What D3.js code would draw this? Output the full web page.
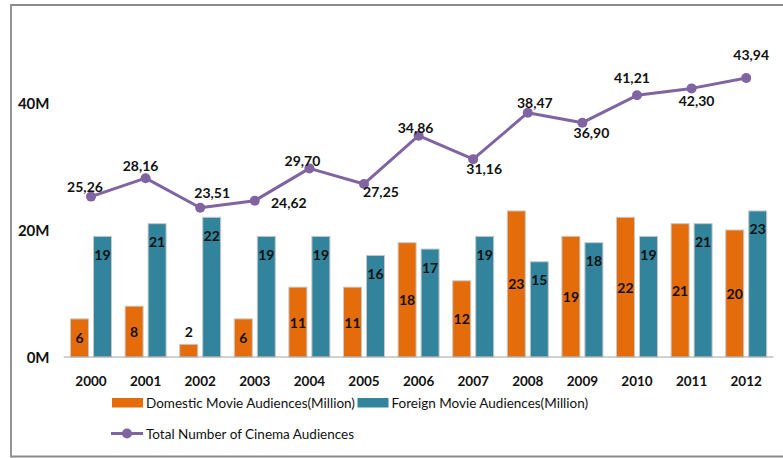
<!DOCTYPE html>
<html>
<head>
<meta charset="utf-8">
<script src="https://cdn.jsdelivr.net/npm/d3@7"></script>
<style>
  html, body { margin: 0; padding: 0; background: #fff; }
  svg { display: block; font-family: Lato, "Open Sans", sans-serif; }
</style>
</head>
<body>
<svg id="chart" width="783" height="458"></svg>
<script>
// Cinema audiences by year (millions)
const years = ["2000","2001","2002","2003","2004","2005","2006","2007","2008","2009","2010","2011","2012"];
const domestic = [6, 8, 2, 6, 11, 11, 18, 12, 23, 19, 22, 21, 20];
const foreign  = [19, 21, 22, 19, 19, 16, 17, 19, 15, 18, 19, 21, 23];
const totals   = [25.26, 28.16, 23.51, 24.62, 29.70, 27.25, 34.86, 31.16, 38.47, 36.90, 41.21, 42.30, 43.94];
const yTicks   = [0, 20, 40];
const seriesNames = ["Domestic Movie Audiences(Million)", "Foreign Movie Audiences(Million)", "Total Number of Cinema Audiences"];

// Label nudges for the total line (px, relative to each marker)
const totalLabelNudge = [[-6,-10],[-5,-13],[12,-15],[34,2],[-7,-8],[17,8],[-3,-8],[11,9],[7,-10],[9,10],[-5,-18],[5,12],[5,-23]];

const colors = { dom: "#E46C0A", for: "#31849B", total: "#8064A2" };

const svg = d3.select("#chart");

// frame
svg.append("path")
  .attr("d", "M 790 5 H 11 V 456.5 H 790")
  .attr("fill", "none")
  .attr("stroke", "#8a8a8a")
  .attr("stroke-width", 1.8);

const x0 = d3.scaleBand().domain(years).range([63.7, 773.5]).padding(0);
const x1 = d3.scaleBand().domain(["dom", "for"]).range([6.8, 47.8]).paddingInner(0.217).paddingOuter(0);
const y = d3.scaleLinear().domain([0, 40]).range([357, 103]);

const commaFmt = d3.formatLocale({ decimal: ",", thousands: ".", grouping: [3], currency: ["", ""] });
const fmt2 = commaFmt.format(".2f");

// y tick labels
svg.append("g").selectAll("text")
  .data(yTicks).join("text")
  .attr("x", 49.5)
  .attr("y", d => y(d))
  .attr("text-anchor", "end")
  .attr("dominant-baseline", "central")
  .attr("font-size", 15)
  .attr("font-weight", 700)
  .attr("fill", "#111")
  .text(d => d + "M");

// bars
const rows = years.map((yr, i) => ({ yr, dom: domestic[i], for: foreign[i] }));
const groups = svg.append("g").selectAll("g")
  .data(rows).join("g")
  .attr("transform", d => `translate(${x0(d.yr)},0)`);

groups.selectAll("rect")
  .data(d => ["dom", "for"].map(k => ({ k, v: d[k] })))
  .join("rect")
  .attr("x", d => x1(d.k))
  .attr("y", d => y(d.v))
  .attr("width", x1.bandwidth())
  .attr("height", d => y(0) - y(d.v))
  .attr("fill", d => colors[d.k])
  .attr("stroke", "#c8c8c8")
  .attr("stroke-width", 1);

// bar value labels
groups.selectAll("text")
  .data(d => ["dom", "for"].map(k => ({ k, v: d[k] })))
  .join("text")
  .attr("x", d => x1(d.k) + x1.bandwidth() / 2)
  .attr("y", d => {
    const h = y(0) - y(d.v);
    if (d.k === "for") return y(d.v) + 18;
    if (h < 20) return y(d.v) - 13;
    return y(d.v) + h / 2;
  })
  .attr("text-anchor", "middle")
  .attr("dominant-baseline", "central")
  .attr("font-size", 14)
  .attr("font-weight", 700)
  .attr("fill", "#111")
  .text(d => d.v);

// x axis baseline
svg.append("line")
  .attr("x1", x0.range()[0]).attr("x2", x0.range()[1])
  .attr("y1", y(0)).attr("y2", y(0))
  .attr("stroke", "#a6a6a6").attr("stroke-width", 1.2);

// year labels
svg.append("g").selectAll("text")
  .data(years).join("text")
  .attr("x", d => x0(d) + x0.bandwidth() / 2)
  .attr("y", 381)
  .attr("text-anchor", "middle")
  .attr("dominant-baseline", "central")
  .attr("font-size", 13.5)
  .attr("font-weight", 700)
  .attr("fill", "#111")
  .text(d => d);

// total line
const cx = i => x0(years[i]) + x0.bandwidth() / 2;
const line = d3.line().x((d, i) => cx(i)).y(d => y(d));
svg.append("path")
  .datum(totals)
  .attr("d", line)
  .attr("fill", "none")
  .attr("stroke", colors.total)
  .attr("stroke-width", 3)
  .attr("stroke-linejoin", "round");

svg.append("g").selectAll("circle")
  .data(totals).join("circle")
  .attr("cx", (d, i) => cx(i))
  .attr("cy", d => y(d))
  .attr("r", 5)
  .attr("fill", colors.total);

svg.append("g").selectAll("text")
  .data(totals).join("text")
  .attr("x", (d, i) => cx(i) + totalLabelNudge[i][0])
  .attr("y", (d, i) => y(d) + totalLabelNudge[i][1])
  .attr("text-anchor", "middle")
  .attr("dominant-baseline", "central")
  .attr("font-size", 14)
  .attr("font-weight", 700)
  .attr("fill", "#111")
  .text(d => fmt2(d));

// legend
const lg = svg.append("g").attr("font-size", 13.5).attr("fill", "#111");
lg.append("rect").attr("x", 112).attr("y", 398).attr("width", 31).attr("height", 9.5).attr("fill", colors.dom);
lg.append("text").attr("x", 146).attr("y", 402.5).attr("dominant-baseline", "central").text(seriesNames[0]);
lg.append("rect").attr("x", 357.5).attr("y", 398).attr("width", 31).attr("height", 9.5).attr("fill", colors.for);
lg.append("text").attr("x", 391.5).attr("y", 402.5).attr("dominant-baseline", "central").text(seriesNames[1]);
lg.append("line").attr("x1", 111).attr("x2", 143).attr("y1", 433.5).attr("y2", 433.5)
  .attr("stroke", colors.total).attr("stroke-width", 3);
lg.append("circle").attr("cx", 127).attr("cy", 433.5).attr("r", 5).attr("fill", colors.total);
lg.append("text").attr("x", 146).attr("y", 433.5).attr("dominant-baseline", "central").text(seriesNames[2]);
</script>
</body>
</html>
